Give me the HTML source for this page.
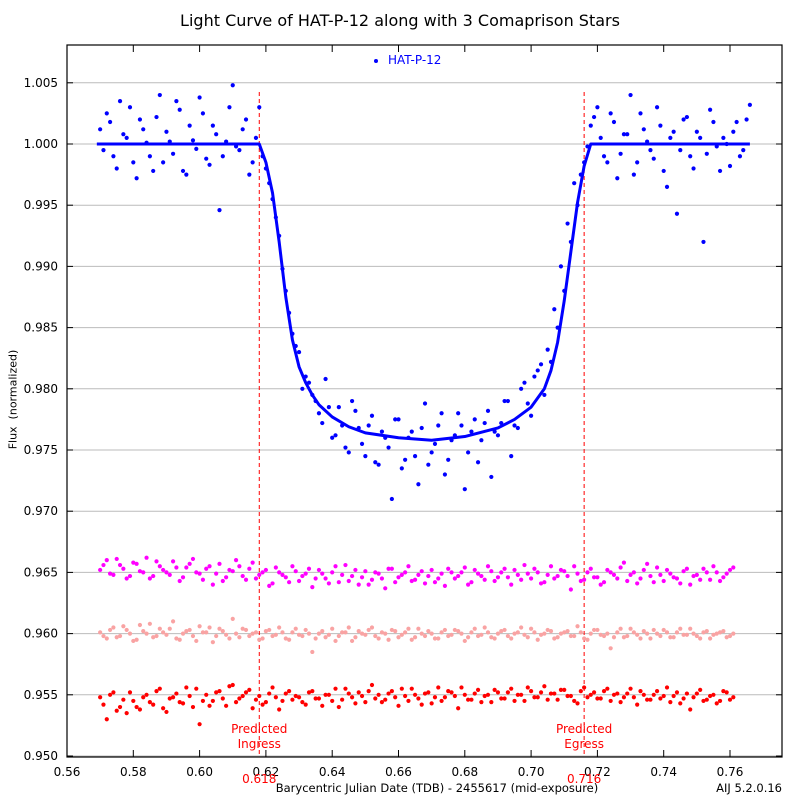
<!DOCTYPE html>
<html><head><meta charset="utf-8"><style>
body{margin:0;background:#fff;}
svg{display:block;font-family:"DejaVu Sans","Liberation Sans",sans-serif;}
</style></head><body>
<svg id="chart" width="800" height="800"></svg>
<script>
const times=[0.570,0.572,0.574,0.576,0.578,0.580,0.582,0.584,0.586,0.588,0.590,0.592,0.594,0.596,0.598,0.600,0.602,0.604,0.606,0.608,0.610,0.612,0.614,0.616,0.618,0.620,0.622,0.624,0.626,0.628,0.630,0.632,0.634,0.636,0.638,0.640,0.642,0.644,0.646,0.648,0.650,0.652,0.654,0.656,0.658,0.660,0.662,0.664,0.666,0.668,0.670,0.672,0.674,0.676,0.678,0.680,0.682,0.684,0.686,0.688,0.690,0.692,0.694,0.696,0.698,0.700,0.702,0.704,0.706,0.708,0.710,0.712,0.714,0.716,0.718,0.720,0.722,0.724,0.726,0.728,0.730,0.732,0.734,0.736,0.738,0.740,0.742,0.744,0.746,0.748,0.750,0.752,0.754,0.756,0.758,0.760,0.762,0.764,0.766];
const times2=[0.571,0.573,0.575,0.577,0.579,0.581,0.583,0.585,0.587,0.589,0.591,0.593,0.595,0.597,0.599,0.601,0.603,0.605,0.607,0.609,0.611,0.613,0.615,0.617,0.619,0.621,0.623,0.625,0.627,0.629,0.631,0.633,0.635,0.637,0.639,0.641,0.643,0.645,0.647,0.649,0.651,0.653,0.655,0.657,0.659,0.661,0.663,0.665,0.667,0.669,0.671,0.673,0.675,0.677,0.679,0.681,0.683,0.685,0.687,0.689,0.691,0.693,0.695,0.697,0.699,0.701,0.703,0.705,0.707,0.709,0.711,0.713,0.715,0.717,0.719,0.721,0.723,0.725,0.727,0.729,0.731,0.733,0.735,0.737,0.739,0.741,0.743,0.745,0.747,0.749,0.751,0.753,0.755,0.757,0.759,0.761,0.763,0.765,0.767];
const hatFlux=[1.0012,1.0025,0.9990,1.0035,1.0005,0.9985,1.0020,1.0001,0.9978,1.0040,1.0010,0.9992,1.0028,0.9975,1.0003,1.0038,0.9988,1.0015,0.9946,1.0002,1.0048,0.9995,1.0020,0.9985,
1.0030,0.9980,0.9955,0.9925,0.9880,0.9845,0.9830,
0.9810,0.9795,0.9780,0.9808,0.9760,0.9785,0.9752,0.9790,0.9768,0.9745,0.9778,0.9738,0.9760,0.9710,0.9775,0.9742,0.9765,0.9722,0.9788,0.9748,0.9770,0.9730,0.9758,0.9780,0.9718,0.9765,0.9740,0.9772,0.9728,0.9762,0.9790,0.9745,0.9768,0.9805,0.9778,0.9815,0.9795,0.9822,0.9850,0.9880,0.9920,0.9950,0.9985,
1.0015,1.0030,0.9990,1.0025,0.9972,1.0008,1.0040,0.9985,1.0012,0.9995,1.0030,0.9978,1.0005,0.9943,1.0020,0.9990,1.0010,0.9920,1.0028,0.9998,1.0005,0.9982,1.0018,0.9995,1.0032];
const hatFlux2=[0.9995,1.0018,0.9980,1.0008,1.0030,0.9972,1.0012,0.9990,1.0022,0.9985,1.0002,1.0035,0.9978,1.0015,0.9996,1.0025,0.9983,1.0008,0.9990,1.0030,0.9998,1.0012,0.9975,1.0005,
0.9990,0.9968,0.9940,0.9898,0.9862,0.9835,0.9800,
0.9805,0.9790,0.9772,0.9785,0.9762,0.9770,0.9748,0.9782,0.9755,0.9770,0.9740,0.9765,0.9752,0.9775,0.9735,0.9760,0.9745,0.9768,0.9738,0.9755,0.9780,0.9742,0.9762,0.9770,0.9748,0.9775,0.9758,0.9782,0.9765,0.9772,0.9790,0.9770,0.9800,0.9788,0.9810,0.9820,0.9832,0.9865,0.9900,0.9935,0.9968,0.9975,
0.9998,1.0022,1.0005,0.9985,1.0018,0.9992,1.0008,0.9975,1.0025,1.0002,0.9988,1.0015,0.9965,1.0010,0.9995,1.0022,0.9980,1.0005,0.9992,1.0018,0.9978,1.0000,1.0010,0.9990,1.0020];
const modelT=[0.569,0.618,0.620,0.622,0.624,0.626,0.628,0.630,0.632,0.634,0.636,0.640,0.645,0.650,0.660,0.670,0.680,0.690,0.695,0.700,0.704,0.706,0.708,0.710,0.712,0.714,0.716,0.718,0.766];
const modelF=[1.0,1.0,0.9985,0.996,0.992,0.9875,0.984,0.9818,0.9805,0.9795,0.9787,0.9777,0.9769,0.9764,0.9760,0.9758,0.9761,0.9768,0.9775,0.9785,0.980,0.9815,0.9838,0.9872,0.9912,0.9952,0.9982,1.0,1.0];
const comp1=[0.9652,0.9660,0.9648,0.9656,0.9645,0.9658,0.9651,0.9662,0.9647,0.9655,0.9650,0.9659,0.9643,0.9654,0.9661,0.9649,0.9653,0.9640,0.9657,0.9646,0.9651,0.9655,0.9644,0.9658,0.9648,0.9652,0.9641,0.9650,0.9646,0.9655,0.9643,0.9649,0.9638,0.9652,0.9645,0.9650,0.9642,0.9656,0.9647,0.9640,0.9651,0.9644,0.9649,0.9637,0.9653,0.9646,0.9650,0.9643,0.9648,0.9641,0.9652,0.9645,0.9639,0.9650,0.9647,0.9654,0.9642,0.9649,0.9644,0.9651,0.9646,0.9653,0.9640,0.9648,0.9656,0.9645,0.9650,0.9642,0.9655,0.9647,0.9651,0.9636,0.9649,0.9644,0.9653,0.9646,0.9642,0.9650,0.9645,0.9658,0.9648,0.9641,0.9652,0.9647,0.9654,0.9643,0.9649,0.9645,0.9651,0.9640,0.9648,0.9653,0.9644,0.9650,0.9646,0.9652];
const comp1b=[0.9656,0.9649,0.9661,0.9653,0.9647,0.9657,0.9650,0.9645,0.9659,0.9652,0.9648,0.9654,0.9646,0.9657,0.9650,0.9644,0.9655,0.9649,0.9643,0.9652,0.9660,0.9647,0.9653,0.9645,0.9650,0.9639,0.9654,0.9648,0.9642,0.9651,0.9647,0.9653,0.9645,0.9649,0.9641,0.9655,0.9648,0.9643,0.9652,0.9646,0.9640,0.9650,0.9645,0.9653,0.9642,0.9648,0.9655,0.9644,0.9651,0.9647,0.9642,0.9649,0.9653,0.9645,0.9650,0.9640,0.9652,0.9647,0.9655,0.9643,0.9650,0.9646,0.9652,0.9644,0.9649,0.9653,0.9641,0.9648,0.9645,0.9652,0.9647,0.9655,0.9643,0.9650,0.9646,0.9640,0.9652,0.9648,0.9654,0.9643,0.9650,0.9645,0.9657,0.9642,0.9648,0.9652,0.9646,0.9641,0.9653,0.9647,0.9644,0.9650,0.9655,0.9643,0.9649,0.9654];
const comp2=[0.9601,0.9596,0.9605,0.9598,0.9603,0.9594,0.9607,0.9600,0.9597,0.9604,0.9599,0.9610,0.9595,0.9602,0.9598,0.9606,0.9601,0.9593,0.9604,0.9599,0.9612,0.9597,0.9603,0.9600,0.9595,0.9602,0.9598,0.9605,0.9596,0.9601,0.9599,0.9603,0.9585,0.9600,0.9597,0.9604,0.9598,0.9601,0.9594,0.9602,0.9599,0.9605,0.9596,0.9600,0.9603,0.9597,0.9601,0.9595,0.9604,0.9598,0.9600,0.9596,0.9603,0.9599,0.9602,0.9594,0.9601,0.9598,0.9605,0.9597,0.9600,0.9603,0.9596,0.9601,0.9599,0.9604,0.9595,0.9600,0.9602,0.9597,0.9601,0.9598,0.9606,0.9596,0.9600,0.9603,0.9598,0.9588,0.9601,0.9597,0.9604,0.9599,0.9602,0.9596,0.9600,0.9603,0.9597,0.9601,0.9599,0.9604,0.9598,0.9601,0.9596,0.9600,0.9602,0.9598];
const comp2b=[0.9598,0.9603,0.9597,0.9606,0.9600,0.9595,0.9602,0.9608,0.9598,0.9601,0.9604,0.9596,0.9600,0.9603,0.9594,0.9601,0.9605,0.9598,0.9602,0.9596,0.9600,0.9604,0.9598,0.9601,0.9596,0.9603,0.9599,0.9601,0.9595,0.9604,0.9598,0.9600,0.9596,0.9602,0.9599,0.9594,0.9601,0.9605,0.9597,0.9600,0.9603,0.9598,0.9601,0.9595,0.9602,0.9599,0.9604,0.9597,0.9600,0.9602,0.9596,0.9601,0.9598,0.9603,0.9600,0.9597,0.9604,0.9599,0.9601,0.9596,0.9602,0.9598,0.9600,0.9605,0.9597,0.9601,0.9599,0.9603,0.9596,0.9600,0.9602,0.9598,0.9601,0.9595,0.9603,0.9599,0.9600,0.9597,0.9604,0.9598,0.9601,0.9596,0.9600,0.9603,0.9598,0.9601,0.9597,0.9604,0.9599,0.9600,0.9596,0.9602,0.9599,0.9601,0.9597,0.9600];
const comp3=[0.9548,0.9530,0.9552,0.9540,0.9535,0.9545,0.9538,0.9550,0.9542,0.9555,0.9536,0.9548,0.9544,0.9556,0.9540,0.9526,0.9550,0.9545,0.9553,0.9541,0.9558,0.9547,0.9552,0.9539,0.9549,0.9544,0.9556,0.9538,0.9551,0.9546,0.9548,0.9542,0.9553,0.9547,0.9550,0.9545,0.9540,0.9555,0.9548,0.9552,0.9544,0.9558,0.9550,0.9546,0.9553,0.9541,0.9549,0.9555,0.9547,0.9551,0.9543,0.9556,0.9548,0.9552,0.9539,0.9550,0.9546,0.9554,0.9549,0.9544,0.9552,0.9547,0.9555,0.9550,0.9545,0.9553,0.9548,0.9557,0.9551,0.9546,0.9554,0.9549,0.9543,0.9556,0.9550,0.9547,0.9553,0.9545,0.9551,0.9548,0.9555,0.9542,0.9550,0.9546,0.9553,0.9549,0.9544,0.9552,0.9547,0.9538,0.9551,0.9545,0.9549,0.9543,0.9553,0.9546];
const comp3b=[0.9542,0.9550,0.9537,0.9546,0.9552,0.9540,0.9548,0.9544,0.9553,0.9539,0.9547,0.9551,0.9543,0.9549,0.9555,0.9545,0.9541,0.9552,0.9547,0.9557,0.9544,0.9549,0.9554,0.9546,0.9542,0.9551,0.9548,0.9545,0.9553,0.9549,0.9544,0.9552,0.9547,0.9541,0.9550,0.9555,0.9546,0.9551,0.9543,0.9549,0.9553,0.9547,0.9544,0.9551,0.9548,0.9555,0.9545,0.9550,0.9542,0.9552,0.9548,0.9545,0.9553,0.9549,0.9556,0.9546,0.9551,0.9544,0.9550,0.9554,0.9547,0.9552,0.9545,0.9550,0.9556,0.9548,0.9552,0.9546,0.9551,0.9554,0.9549,0.9545,0.9553,0.9548,0.9552,0.9547,0.9555,0.9550,0.9544,0.9551,0.9548,0.9553,0.9546,0.9550,0.9547,0.9556,0.9549,0.9543,0.9551,0.9548,0.9554,0.9546,0.9550,0.9545,0.9552,0.9548];
const xTicks=[0.56,0.58,0.60,0.62,0.64,0.66,0.68,0.70,0.72,0.74,0.76];
const yTicks=[0.950,0.955,0.960,0.965,0.970,0.975,0.980,0.985,0.990,0.995,1.000,1.005];
const predicted=[0.618,0.716];

const NS='http://www.w3.org/2000/svg';
const svg=document.getElementById('chart');
const L=67,R=782,T=45,B=757;
const X=v=>67+(v-0.56)*3315;
const Y=v=>756-(v-0.950)*12240;
function mk(tag,attrs,parent){const e=document.createElementNS(NS,tag);for(const k in attrs)e.setAttribute(k,attrs[k]);(parent||svg).appendChild(e);return e;}

yTicks.forEach(v=>{
  const g=mk('line',{x1:L,x2:R,y1:Y(v),y2:Y(v),stroke:'#bbb','stroke-width':1});
  
  
  const t=mk('text',{x:58,y:Y(v)+4,'text-anchor':'end','font-size':12,fill:'#000'});
  t.textContent=v.toFixed(3);
  
  
  mk('line',{x1:L,x2:L+6,y1:Y(v),y2:Y(v),stroke:'#000'});
  mk('line',{x1:R,x2:R-6,y1:Y(v),y2:Y(v),stroke:'#000'});
});
xTicks.forEach(v=>{
  mk('line',{x1:X(v),x2:X(v),y1:B,y2:B-7,stroke:'#000'});
  mk('line',{x1:X(v),x2:X(v),y1:T,y2:T+7,stroke:'#000'});
  const t=mk('text',{x:X(v),y:776,'text-anchor':'middle','font-size':12,fill:'#000'});
  t.textContent=v.toFixed(2);
  
  
});
const pnames=[['Predicted','Ingress'],['Predicted','Egress']];
predicted.forEach((v,i)=>{
  const l=mk('line',{x1:X(v),x2:X(v),y1:92,y2:B,stroke:'#f00','stroke-dasharray':'4,3','stroke-width':1});
  
  
  const a=mk('text',{x:X(v),y:733,'text-anchor':'middle','font-size':12,fill:'#f00'});a.textContent=pnames[i][0];
  
  
  const b=mk('text',{x:X(v),y:748,'text-anchor':'middle','font-size':12,fill:'#f00'});b.textContent=pnames[i][1];
  
  
  const c=mk('text',{x:X(v),y:783,'text-anchor':'middle','font-size':12,fill:'#f00'});c.textContent=v.toFixed(3);
  
  
});
function dots(ts,vals,color,name){
  const g=mk('g',{fill:color});
  
  
  vals.forEach((v,i)=>{
    const c=mk('circle',{cx:X(ts[i]),cy:Y(v),r:2.1},g);
    
    
  });
}
dots(times,comp3,'#ff0000','comp-star-3');
dots(times2,comp3b,'#ff0000','comp-star-3b');
dots(times,comp2,'#f9a3a3','comp-star-2');
dots(times2,comp2b,'#f9a3a3','comp-star-2b');
dots(times,comp1,'#ff00ff','comp-star-1');
dots(times2,comp1b,'#ff00ff','comp-star-1b');
dots(times,hatFlux,'#0000ff','hat-p-12');
dots(times2,hatFlux2,'#0000ff','hat-p-12b');
const pts=modelT.map((t,i)=>X(t)+','+Y(modelF[i])).join(' ');
const m=mk('polyline',{points:pts,fill:'none',stroke:'#0000ff','stroke-width':3,'stroke-linejoin':'round'});


const f=mk('rect',{x:L,y:T,width:R-L,height:B-T,fill:'none',stroke:'#000','stroke-width':1.2});


</script>
<div style="position:absolute;left:0;top:0;width:800px;height:800px;pointer-events:none;font-family:'DejaVu Sans','Liberation Sans',sans-serif;">
<div style="position:absolute;top:11px;left:0;width:800px;text-align:center;font-size:16px;">Light Curve of HAT-P-12 along with 3 Comaprison Stars</div>
<div style="position:absolute;left:-47px;top:393px;width:120px;text-align:center;font-size:11px;transform:rotate(-90deg);">Flux&nbsp; (normalized)</div>
<div style="position:absolute;left:237px;top:781px;width:400px;text-align:center;font-size:11.5px;">Barycentric Julian Date (TDB) - 2455617 (mid-exposure)</div>
<div style="position:absolute;right:18px;top:781px;font-size:11.5px;">AIJ 5.2.0.16</div>
<div style="position:absolute;left:374px;top:53px;font-size:12px;color:#00f;"><span style="display:inline-block;width:4px;height:4px;border-radius:50%;background:#00f;margin-right:10px;vertical-align:middle;"></span>HAT-P-12</div>
</div>
</body></html>
